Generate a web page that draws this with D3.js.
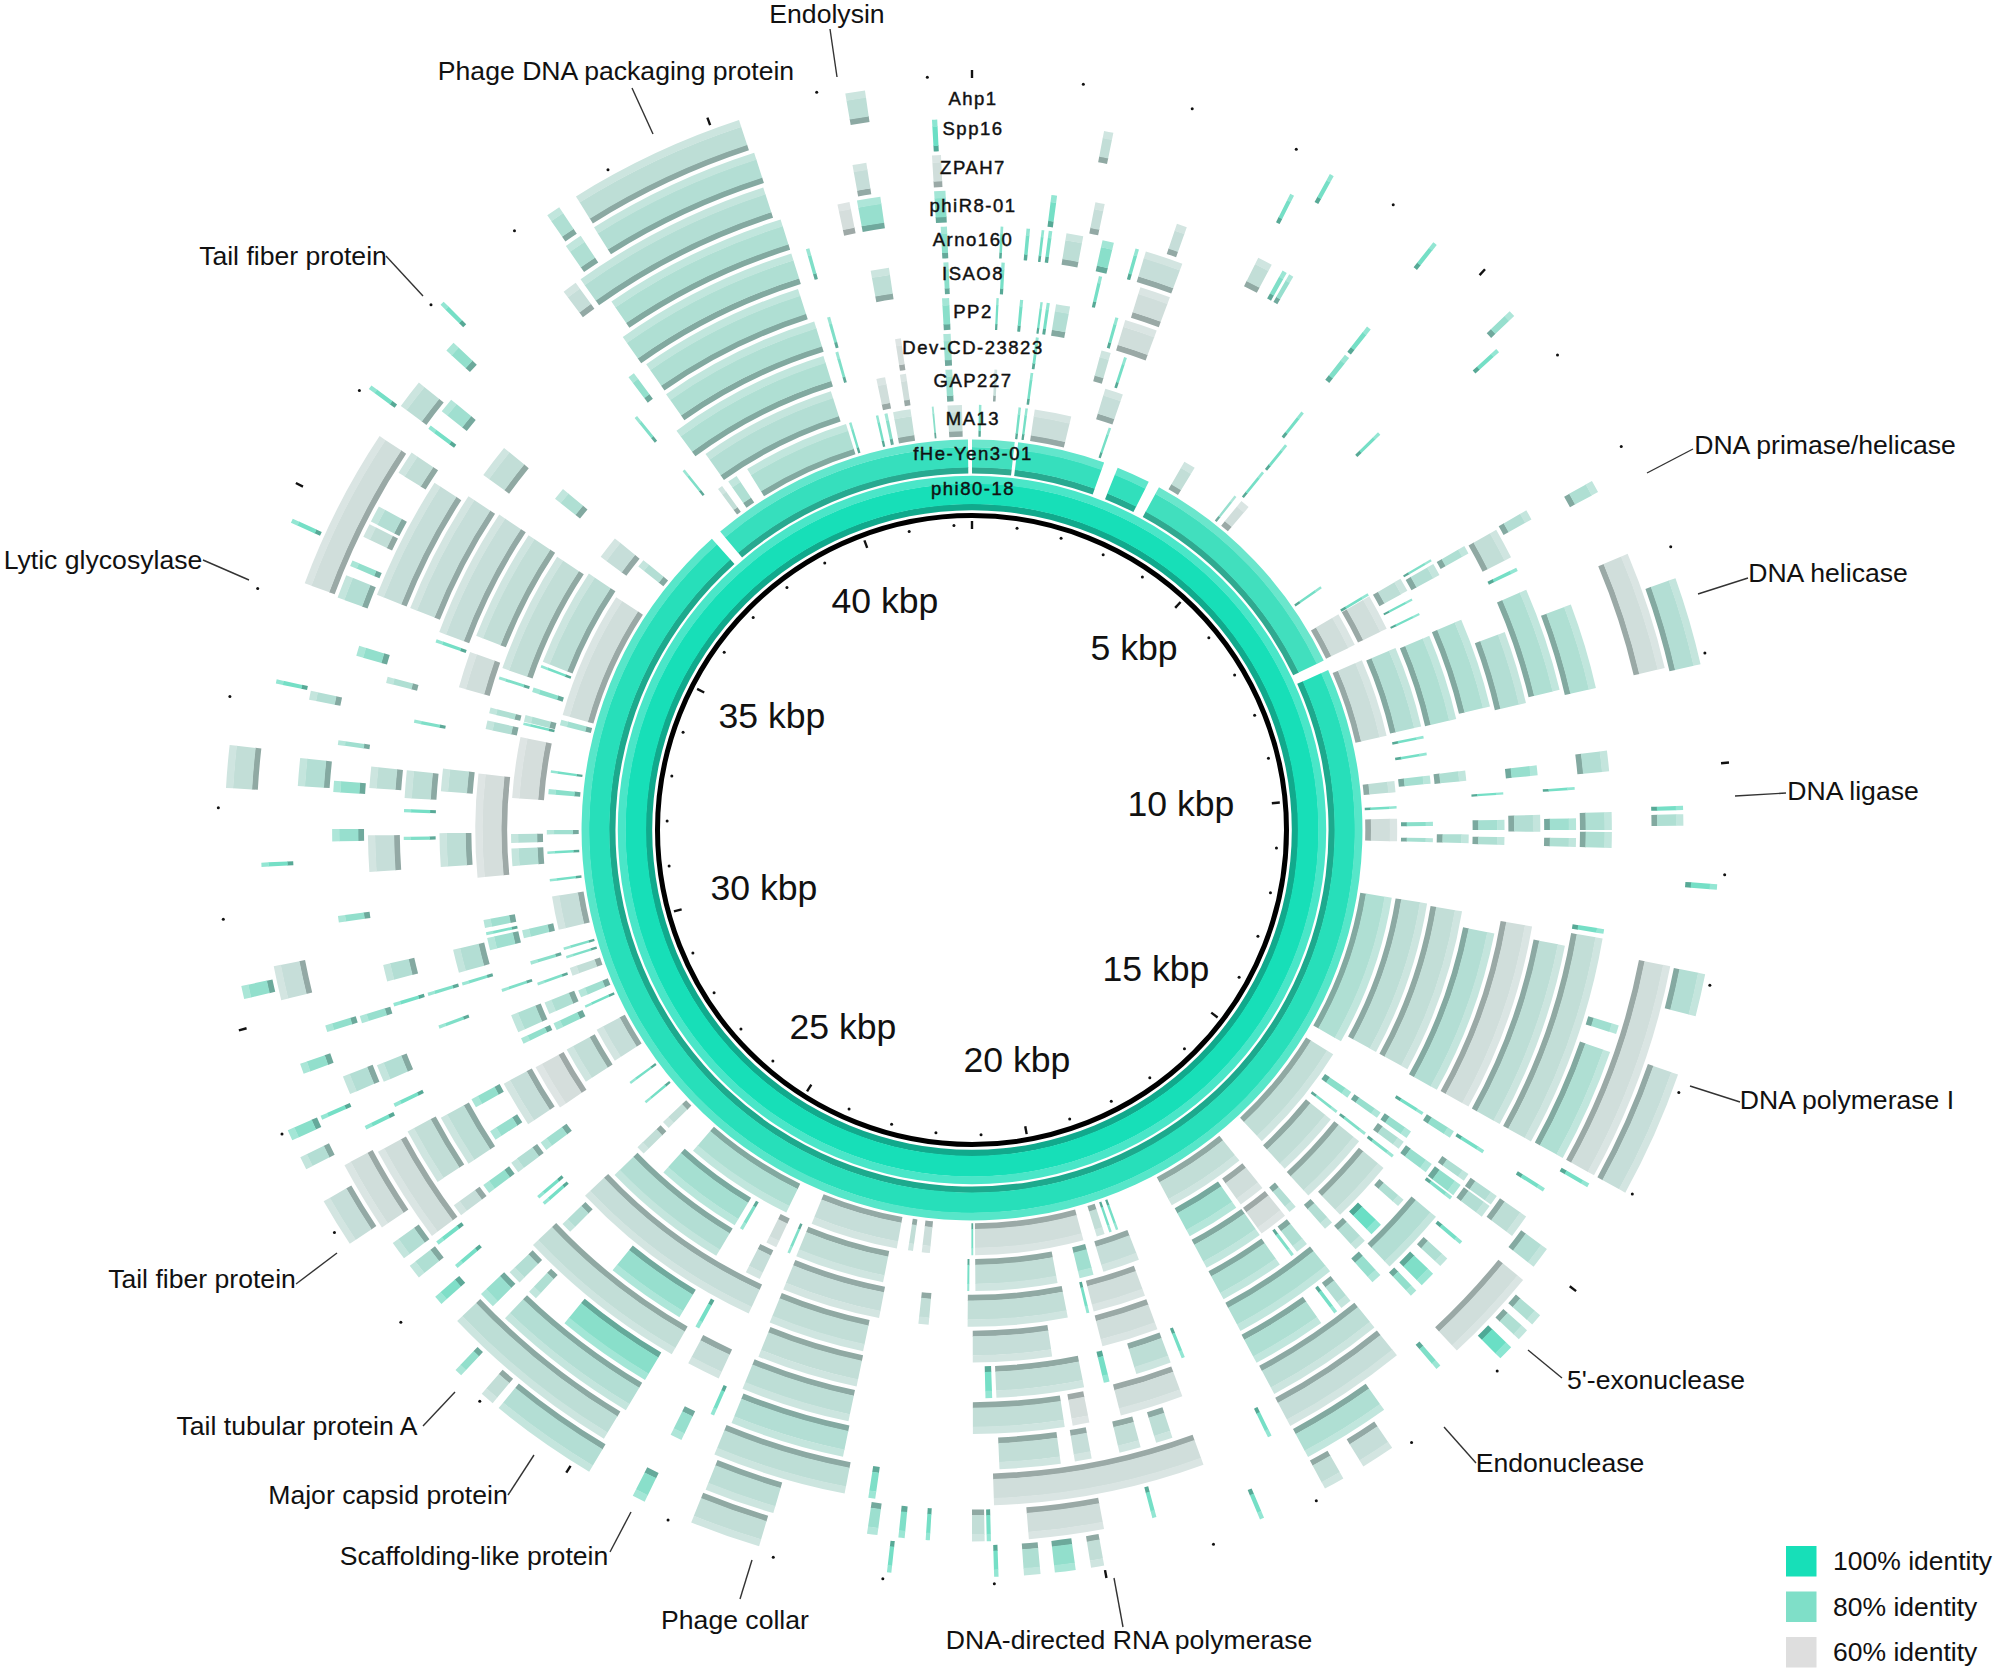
<!DOCTYPE html>
<html><head><meta charset="utf-8">
<script src="https://cdn.jsdelivr.net/npm/d3@7"></script>
<style>html,body{margin:0;background:#fff}svg{display:block}text{font-family:"Liberation Sans",Arial,sans-serif;fill:#111}</style>
</head><body><svg id="c" width="2000" height="1670"></svg>
<script>
// Every row: start kbp, end kbp, % identity
const genomeLength = 42.4;
const trackNames = ["phi80-18","fHe-Yen3-01","MA13","GAP227","Dev-CD-23823","PP2","ISAO8","Arno160","phiR8-01","ZPAH7","Spp16","Ahp1"];
const phi80 = [[0,42.4,100]];
const fHeYen = [[0,.74,92],[.80,2.33,94],[2.58,3.17,95],[3.37,7.57,92],[7.75,37.48,97],[37.67,42.33,94]];
const MA13 = [[.11,.15,82],[.74,.78,82],[.85,.89,82],[1.00,1.59,64],[2.21,2.25,82],[3.53,3.72,66],[4.49,4.53,75],[4.63,4.78,63],[6.48,6.52,82],[7.01,7.56,63],[7.83,9.09,64],[9.82,10.00,67],[10.22,10.26,82],[10.42,10.78,63],[11.68,14.11,70],[14.35,16.14,66],[16.61,17.90,66],[18.83,18.87,82],[18.94,18.98,82],[19.06,19.19,66],[19.41,21.15,63],[21.18,21.21,82],[21.87,22.00,64],[22.14,22.22,66],[22.40,23.81,65],[24.25,26.03,70],[26.56,26.69,66],[27.09,27.13,82],[27.48,27.52,82],[27.93,28.50,65],[28.89,28.93,82],[29.07,29.19,73],[29.44,29.57,66],[29.73,29.77,80],[29.87,29.91,80],[30.20,30.74,65],[30.98,31.02,82],[31.42,31.46,82],[31.73,31.80,73],[32.37,32.45,78],[32.71,32.75,82],[33.48,33.57,73],[33.65,35.71,63],[36.31,36.44,69],[38.08,38.16,66],[38.28,38.44,70],[38.64,40.37,70],[40.42,40.46,82],[40.86,40.90,82],[41.00,41.05,78],[41.14,41.42,66],[41.76,41.79,78],[42.01,42.24,65]];
const GAP227 = [[.33,.37,65],[.86,.90,82],[1.98,2.25,65],[4.59,4.63,82],[6.96,7.00,82],[7.01,7.55,63],[7.86,9.07,69],[9.21,9.25,82],[9.46,9.50,82],[9.80,9.92,72],[10.48,10.54,78],[10.72,10.78,72],[11.68,13.99,67],[14.68,14.78,78],[15.02,15.06,80],[15.18,16.17,66],[16.60,17.00,63],[17.08,17.88,73],[18.70,19.25,65],[19.40,19.61,73],[19.94,21.15,66],[21.24,21.27,82],[22.51,23.84,66],[23.94,23.98,80],[24.16,24.32,63],[24.71,24.76,80],[24.85,26.15,72],[26.55,26.68,66],[27.90,28.45,66],[28.77,28.88,76],[29.03,29.21,70],[29.48,29.52,80],[29.80,29.85,78],[30.20,30.32,73],[31.27,31.53,69],[31.61,31.74,69],[32.27,33.17,62],[33.35,33.39,82],[33.40,33.50,70],[33.85,33.92,78],[34.23,34.27,82],[34.32,35.78,67],[36.08,36.42,65],[37.82,37.86,80],[38.24,40.30,69],[40.99,41.12,63],[41.34,41.43,63],[42.01,42.11,75]];
const DevCD = [[.87,.91,82],[1.78,1.91,66],[2.10,2.14,82],[4.60,4.64,82],[7.02,7.21,67],[7.33,7.36,82],[7.55,7.58,82],[7.89,9.08,70],[9.79,9.93,70],[10.66,10.78,70],[11.71,13.99,66],[14.68,14.77,75],[15.02,15.06,80],[15.17,16.18,66],[16.41,16.52,69],[16.60,17.00,62],[17.03,17.88,70],[18.80,19.53,63],[19.59,19.63,82],[19.89,21.26,66],[21.79,21.93,66],[22.47,23.83,65],[24.18,24.39,65],[24.85,26.62,69],[27.80,28.44,62],[28.80,28.88,76],[28.97,29.22,70],[29.56,29.60,80],[30.15,30.32,73],[30.36,30.40,80],[30.46,30.57,73],[31.15,32.57,62],[33.18,33.30,69],[33.40,33.48,70],[33.88,33.92,80],[34.04,35.73,66],[38.10,40.35,70],[40.52,40.56,80],[41.35,41.43,62],[42.01,42.11,75]];
const PP2 = [[.31,.34,82],[.61,.65,82],[.87,.90,82],[.95,.99,82],[1.07,1.25,69],[1.84,1.88,82],[1.97,2.39,63],[4.50,4.54,82],[7.00,7.03,80],[7.07,7.23,69],[7.86,9.02,70],[10.12,10.15,82],[10.47,10.60,72],[10.69,10.79,70],[11.92,14.04,69],[14.37,14.41,82],[14.66,14.76,75],[14.82,14.93,70],[15.03,15.07,80],[15.24,16.05,66],[16.19,16.31,69],[16.61,16.77,70],[16.82,16.86,80],[17.04,17.88,70],[18.80,19.53,63],[20.18,21.19,65],[22.59,23.83,66],[24.12,26.69,65],[27.45,27.57,73],[27.85,28.45,65],[29.80,29.84,80],[29.97,30.27,69],[31.33,31.76,67],[32.29,32.58,67],[33.63,34.10,63],[34.32,35.76,66],[36.33,36.49,70],[37.77,37.81,80],[38.27,40.37,70],[40.54,40.58,80],[42.02,42.11,78]];
const ISAO8 = [[.35,.39,82],[1.52,1.56,82],[2.03,2.40,63],[5.37,5.41,82],[7.07,7.17,70],[8.20,9.08,69],[9.83,9.95,75],[10.42,10.62,69],[11.75,14.03,63],[14.37,14.46,76],[14.84,14.96,75],[15.38,15.48,70],[15.78,15.94,84],[16.05,16.20,69],[16.60,17.88,70],[18.61,18.65,82],[18.79,19.22,67],[19.55,19.62,82],[19.86,20.91,66],[20.96,21.04,82],[22.58,23.80,66],[24.58,24.63,82],[24.85,25.82,75],[26.50,26.63,69],[26.94,26.98,82],[27.04,27.08,82],[27.44,27.58,69],[27.91,28.03,75],[28.36,28.47,76],[29.39,29.43,80],[29.80,29.84,80],[31.68,31.72,80],[32.01,32.05,82],[32.18,32.51,67],[33.08,33.12,80],[34.07,34.11,82],[34.20,35.77,65],[38.02,38.10,76],[38.28,40.30,70],[41.19,41.41,67],[42.06,42.12,78]];
const Arno160 = [[.32,.35,82],[.61,.65,82],[.78,.81,82],[.86,.90,82],[1.06,1.25,67],[1.47,1.60,78],[1.85,1.89,82],[1.97,2.40,65],[4.49,4.55,80],[7.09,7.44,66],[7.57,7.61,82],[7.84,9.02,70],[10.12,10.15,82],[10.47,10.60,73],[10.69,10.79,70],[11.90,14.03,67],[14.37,14.41,82],[14.69,14.78,70],[14.84,14.98,76],[15.00,15.04,80],[15.29,16.05,69],[16.19,16.31,75],[16.63,16.76,69],[16.82,16.86,82],[17.04,17.89,70],[18.80,19.52,63],[19.88,20.07,62],[20.16,21.19,66],[22.59,23.83,67],[24.12,24.50,65],[24.71,26.69,66],[27.45,27.56,76],[27.85,28.45,67],[29.80,29.84,82],[30.09,30.28,69],[31.33,31.74,65],[32.27,32.51,67],[33.46,33.53,70],[34.34,35.75,65],[36.04,36.42,66],[38.24,40.35,70],[40.52,40.56,80],[42.05,42.12,78]];
const phiR8 = [[.84,.90,82],[1.31,1.41,65],[2.20,2.31,65],[3.13,3.29,66],[3.42,3.47,80],[3.50,3.55,75],[4.49,4.54,82],[7.07,7.18,69],[8.17,9.09,70],[9.76,9.98,69],[10.41,10.60,70],[10.62,10.79,70],[11.65,11.70,82],[11.75,14.03,66],[14.71,14.82,69],[14.84,14.98,69],[15.31,15.35,82],[15.55,15.66,70],[15.77,15.94,80],[16.02,16.10,76],[16.61,17.88,67],[19.05,19.23,67],[19.40,19.63,66],[19.93,20.11,65],[20.26,20.91,66],[22.57,23.80,69],[24.00,24.04,82],[24.82,25.86,78],[26.26,26.36,70],[26.50,26.65,69],[27.44,27.57,65],[27.87,28.49,66],[28.78,28.82,82],[29.07,29.26,69],[29.73,29.81,75],[30.82,30.89,76],[31.68,31.81,75],[32.20,32.32,76],[32.70,32.75,73],[33.66,33.77,76],[34.34,35.67,65],[38.36,40.35,70],[40.97,41.10,62],[41.18,41.43,75],[42.00,42.12,78]];
const ZPAH7 = [[12.58,12.67,73],[12.86,14.02,70],[14.37,14.41,82],[14.71,14.95,67],[16.61,17.89,65],[18.10,18.14,82],[18.84,20.98,63],[22.17,22.24,80],[22.48,23.84,67],[24.20,24.32,75],[24.83,26.35,69],[26.52,26.69,75],[27.04,27.08,82],[27.34,27.38,82],[27.45,28.45,63],[28.70,28.74,82],[29.09,29.28,69],[29.75,29.82,76],[32.24,32.52,69],[33.11,33.20,69],[34.17,34.41,69],[34.51,34.57,76],[34.83,34.97,66],[35.00,35.17,69],[35.56,35.80,66],[36.09,36.13,82],[36.31,36.46,73],[38.02,38.17,65],[38.23,40.28,69],[41.20,41.34,65],[42.00,42.09,63]];
const Spp16 = [[1.26,1.35,66],[3.13,3.17,82],[5.59,5.63,82],[7.14,7.26,70],[7.91,9.05,63],[10.37,10.41,82],[10.45,10.56,70],[11.90,14.02,63],[14.11,14.15,82],[14.85,15.06,69],[15.22,16.14,63],[16.35,16.40,80],[17.03,17.88,70],[19.43,19.47,82],[19.94,20.66,63],[21.02,21.06,82],[21.08,21.20,66],[21.60,21.64,82],[21.84,21.90,80],[22.10,22.20,74],[23.11,23.79,67],[24.87,26.66,67],[26.88,26.97,80],[27.21,27.35,70],[27.44,27.62,69],[27.80,28.49,63],[28.97,29.01,82],[29.44,29.54,76],[30.17,30.50,65],[31.45,31.49,82],[33.20,33.24,82],[34.19,35.76,63],[36.11,36.39,67],[36.79,36.89,76],[38.30,38.47,70],[38.62,40.30,69],[42.02,42.07,84]];
const Ahp1 = [[3.37,3.41,82],[4.49,4.53,82],[5.42,5.48,75],[8.28,9.09,69],[11.09,11.14,82],[11.91,12.30,69],[12.85,14.02,65],[15.37,15.48,70],[15.55,15.66,70],[15.76,15.90,84],[17.17,17.48,65],[17.69,17.88,66],[18.49,18.53,82],[20.00,20.12,66],[20.26,20.45,76],[20.58,20.73,70],[20.96,21.00,82],[21.93,21.97,82],[23.15,23.80,66],[24.26,24.38,78],[24.83,25.83,69],[25.90,26.03,66],[26.28,26.35,76],[27.84,28.29,65],[28.62,28.74,69],[28.91,29.01,78],[30.26,30.38,76],[32.18,32.57,66],[34.66,34.70,82],[36.06,36.10,82],[37.06,37.10,82],[38.32,38.45,70],[38.63,40.26,67],[41.25,41.43,67]];
const tracks = [phi80,fHeYen,MA13,GAP227,DevCD,PP2,ISAO8,Arno160,phiR8,ZPAH7,Spp16,Ahp1];
const legendLabels = ["100% identity","80% identity","60% identity"];
const legendValues = [100,80,60];
const kbpTicks = [5,10,15,20,25,30,35,40];

// Layout (not data)
const cx = 972, cy = 830;
const trackLabelY = [488,453,418,380,347,311,273,239,205,167,128,98];
const kbpLabelPos = [[1134,648],[1181,804],[1156,969],[1017,1060],[843,1027],[764,888],[772,716],[885,601]];
const callouts = [
 ["Endolysin",827,14,830,29,837,77],
 ["Phage DNA packaging protein",616,71,632,88,653,134],
 ["Tail fiber protein",293,256,386,256,423,296],
 ["Lytic glycosylase",103,560,203,560,249,580],
 ["Tail fiber protein",202,1279,296,1284,337,1253],
 ["Tail tubular protein A",297,1426,423,1426,455,1392],
 ["Major capsid protein",388,1495,508,1495,534,1455],
 ["Scaffolding-like protein",474,1556,610,1552,631,1512],
 ["Phage collar",735,1620,740,1599,752,1560],
 ["DNA-directed RNA polymerase",1129,1640,1123,1627,1114,1578],
 ["Endonuclease",1560,1463,1476,1463,1444,1427],
 ["5'-exonuclease",1656,1380,1562,1378,1528,1350],
 ["DNA polymerase I",1847,1100,1740,1102,1690,1086],
 ["DNA ligase",1853,791,1786,793,1735,796],
 ["DNA helicase",1828,573,1748,578,1698,594],
 ["DNA primase/helicase",1825,445,1693,449,1647,473]
];

const svg = d3.select("#c");
const g = svg.append("g").attr("transform",`translate(${cx},${cy})`);
const angle = d3.scaleLinear().domain([0,genomeLength]).range([0,2*Math.PI]);
const inner = d3.scaleLinear().domain([1,3,12]).range([320,393.5,715.5]);
const widthOf = d3.scaleLinear().domain([1,2,3,12]).range([34,33.5,31.5,31.5]);
const colour = d3.scaleLinear().domain([60,80,100]).range(["#dedede","#7fdfc8","#17dfb8"]);
const arc = d3.arc();
const STRIPES = [[0,.18,c=>{const k=d3.rgb(c);return d3.rgb(k.r*.74,k.g*.76,k.b*.76).formatHex()}],
                 [.18,.78,c=>c],
                 [.78,1,c=>d3.interpolateRgb(c,"#fff")(.22)]];
tracks.forEach((rows,i)=>{
  const t=i+1, r0=inner(t), w=widthOf(t);
  const tg=g.append("g").attr("class","track");
  STRIPES.forEach(([a,b,fn])=>{
    tg.selectAll(null).data(rows).join("path")
      .attr("d",d=>arc({innerRadius:r0+a*w-.2,outerRadius:r0+b*w+.2,startAngle:angle(d[0]),endAngle:angle(d[1])}))
      .attr("fill",d=>fn(colour(d[2])));
  });
});
// Inner circle and ticks
g.append("circle").attr("r",314.5).attr("fill","none").attr("stroke","#000").attr("stroke-width",5);
const allTicks=d3.range(0,Math.ceil(genomeLength));
const pt=(k,r)=>{const a=angle(k);return [r*Math.sin(a),-r*Math.cos(a)]};
[[301,309,305],[752,760,754]].forEach(([a,b,m])=>{
  g.selectAll(null).data(allTicks.filter(k=>k%5===0)).join("line")
   .attr("x1",k=>pt(k,a)[0]).attr("y1",k=>pt(k,a)[1]).attr("x2",k=>pt(k,b)[0]).attr("y2",k=>pt(k,b)[1])
   .attr("stroke","#111").attr("stroke-width",2.4);
  g.selectAll(null).data(allTicks.filter(k=>k%5!==0)).join("circle")
   .attr("cx",k=>pt(k,m)[0]).attr("cy",k=>pt(k,m)[1]).attr("r",1.5).attr("fill","#111");
});
// kbp labels
svg.selectAll(null).data(kbpTicks).join("text").text(d=>d+" kbp")
  .attr("x",(d,i)=>kbpLabelPos[i][0]).attr("y",(d,i)=>kbpLabelPos[i][1])
  .attr("text-anchor","middle").attr("dominant-baseline","central").attr("font-size",35.6);
// track names
svg.selectAll(null).data(trackNames).join("text").text(d=>d)
  .attr("x",cx+1).attr("y",(d,i)=>trackLabelY[i])
  .attr("text-anchor","middle").attr("dominant-baseline","central")
  .attr("font-size",18.5).attr("letter-spacing",1.5).attr("stroke","#111").attr("stroke-width",.45);
// callouts
svg.selectAll(null).data(callouts).join("text").text(d=>d[0])
  .attr("x",d=>d[1]).attr("y",d=>d[2]).attr("text-anchor","middle").attr("dominant-baseline","central").attr("font-size",26.6);
svg.selectAll(null).data(callouts).join("line")
  .attr("x1",d=>d[3]).attr("y1",d=>d[4]).attr("x2",d=>d[5]).attr("y2",d=>d[6]).attr("stroke","#333").attr("stroke-width",1.4);
// legend
const lg=svg.append("g");
lg.selectAll("rect").data(legendValues).join("rect").attr("x",1786).attr("y",(d,i)=>1546+i*45.5).attr("width",30.5).attr("height",30.5).attr("fill",d=>colour(d));
lg.selectAll("text").data(legendLabels).join("text").text(d=>d).attr("x",1833).attr("y",(d,i)=>1570+i*45.5).attr("font-size",26.5);
</script></body></html>
